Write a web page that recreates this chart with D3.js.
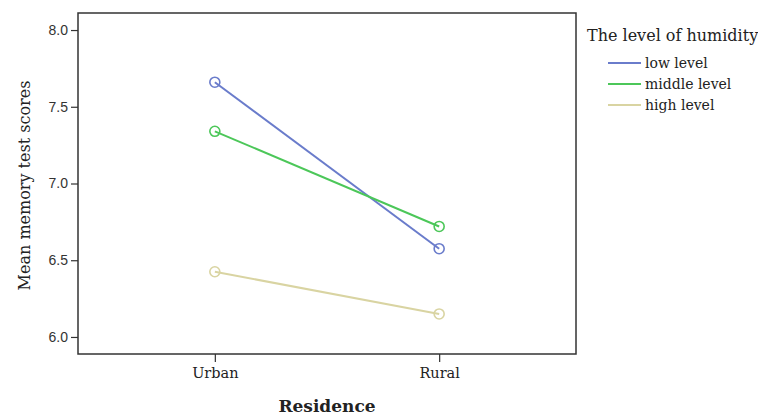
<!DOCTYPE html>
<html><head><meta charset="utf-8">
<script src="https://cdn.jsdelivr.net/npm/d3@7"></script>
<style>body{margin:0;background:#fff}svg{display:block}</style>
</head><body>
<svg id="c" width="758" height="416"></svg>
<script>
const categories = ["Urban", "Rural"];
const seriesNames = ["low level", "middle level", "high level"];
const lowLevel = [7.66, 6.575];
const middleLevel = [7.34, 6.72];
const highLevel = [6.425, 6.15];
const yTicks = [6.0, 6.5, 7.0, 7.5, 8.0];
const colors = ["#6a7ccb", "#4cc759", "#d9d4a2"];

(function () {
const svg = d3.select("#c");
const pL = 78, pR = 576, pT = 13, pB = 354;
const serif = "DejaVu Serif, serif";
const x = d3.scalePoint().domain(categories).range([pL, pR]).padding(0.61);
const y = d3.scaleLinear().domain([5.889, 8.111]).range([pB, pT]);

svg.append("rect").attr("x", pL).attr("y", pT).attr("width", pR - pL).attr("height", pB - pT)
  .attr("fill", "none").attr("stroke", "#333").attr("stroke-width", 1.5);

const ya = svg.append("g").attr("transform", `translate(${pL},0)`)
  .call(d3.axisLeft(y).tickValues(yTicks).tickFormat(d3.format(".1f")).tickSize(7).tickPadding(3));
ya.select(".domain").remove();
ya.selectAll("line").attr("stroke", "#333").attr("stroke-width", 1.2);
ya.selectAll("text").attr("font-family", "Liberation Sans, Arial, sans-serif").attr("font-size", 14).attr("fill", "#333");

const xa = svg.append("g").attr("transform", `translate(0,${pB})`)
  .call(d3.axisBottom(x).tickSize(8).tickPadding(6));
xa.select(".domain").remove();
xa.selectAll("line").attr("stroke", "#333").attr("stroke-width", 1.2);
xa.selectAll("text").attr("font-family", serif).attr("font-size", 14.5).attr("fill", "#222");

svg.append("text").attr("transform", `translate(30,${(pT + pB) / 2 + 2}) rotate(-90)`)
  .attr("text-anchor", "middle").attr("font-family", serif).attr("font-size", 16)
  .attr("fill", "#222").text("Mean memory test scores");
svg.append("text").attr("x", (pL + pR) / 2).attr("y", 412).attr("text-anchor", "middle")
  .attr("font-family", serif).attr("font-size", 17).attr("font-weight", "bold")
  .attr("fill", "#222").text("Residence");

const series = [lowLevel, middleLevel, highLevel];
const line = d3.line().x((d, i) => x(categories[i])).y(d => y(d));
series.forEach((vals, k) => {
  svg.append("path").attr("d", line(vals)).attr("fill", "none").attr("stroke", colors[k]).attr("stroke-width", 2);
  svg.selectAll(null).data(vals).enter().append("circle")
    .attr("cx", (d, i) => x(categories[i])).attr("cy", d => y(d)).attr("r", 5)
    .attr("fill", "none").attr("stroke", colors[k]).attr("stroke-width", 1.6);
});

svg.append("text").attr("x", 587).attr("y", 41).attr("font-family", serif)
  .attr("font-size", 16).attr("fill", "#222").text("The level of humidity");
seriesNames.forEach((n, k) => {
  const yy = 63 + k * 21;
  svg.append("line").attr("x1", 608).attr("x2", 641).attr("y1", yy).attr("y2", yy)
    .attr("stroke", colors[k]).attr("stroke-width", 2);
  svg.append("text").attr("x", 645).attr("y", yy + 5).attr("font-family", serif)
    .attr("font-size", 14).attr("fill", "#222").text(n);
});
})();
</script>
</body></html>
